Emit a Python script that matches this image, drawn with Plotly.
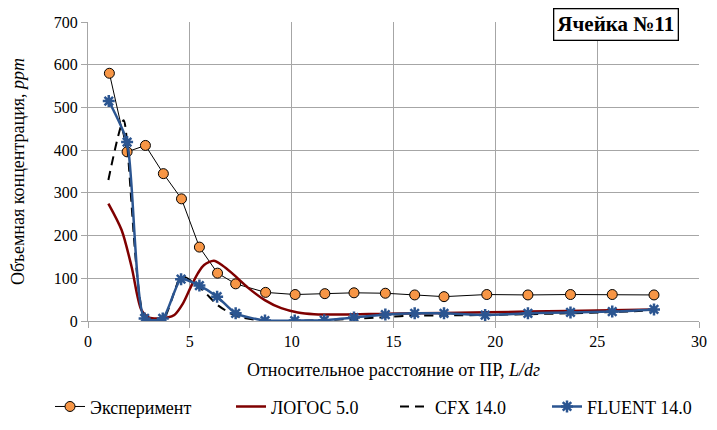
import plotly.graph_objects as go

# Эксперимент (measured points)
exp_x = [1.05, 1.92, 2.82, 3.70, 4.59, 5.47, 6.36, 7.25, 8.72, 10.17, 11.63, 13.06,
         14.6, 16.04, 17.48, 19.58, 21.6, 23.69, 25.74, 27.79]
exp_y = [580, 396, 411, 345, 286, 173, 112, 87, 67, 62, 64, 66,
         65, 61, 57, 62, 61, 62, 62, 61]

# ЛОГОС 5.0
logos_x = [1.0, 1.65, 2.14, 2.62, 3.0, 3.43, 3.9, 4.24, 4.65, 5.05, 5.4, 5.7, 6.18,
           6.6, 7.07, 7.88, 8.68, 9.49, 10.3, 11.1, 12.5, 14.6, 17.5, 21.6, 25.7, 27.8]
logos_y = [275, 213, 127, 26, 8, 6, 8, 14, 40, 80, 112, 131, 141,
           130, 112, 77, 49, 30, 20, 16, 15, 17, 19, 22, 25, 27]

# CFX 14.0
cfx_x = [1.0, 1.75, 2.8, 3.7, 4.6, 5.5, 6.4, 7.25, 8.7, 10.15, 11.6, 13.06,
         14.6, 16.04, 17.48, 19.5, 21.6, 23.69, 25.74, 27.79]
cfx_y = [330, 470, 5, 5, 105, 78, 36, 12, 0, 0, 2, 5,
         9, 13, 13, 14, 16, 18, 21, 25]

# FLUENT 14.0
fl_x = [1.02, 1.92, 2.78, 3.67, 4.57, 5.47, 6.34, 7.25, 8.69, 10.15, 11.6, 13.06,
        14.6, 16.04, 17.48, 19.5, 21.6, 23.69, 25.74, 27.79]
fl_y = [515, 419, 6, 6, 98, 83, 57, 18, 1, 1, 2, 8,
        15, 18, 18, 14, 18, 20, 22, 27]

x_ticks = [0, 5, 10, 15, 20, 25, 30]
y_ticks = [0, 100, 200, 300, 400, 500, 600, 700]

FONT = "Times New Roman, Liberation Serif, DejaVu Serif, serif"
GRID = "#a6a6a6"
FS_TICK = 16
FS_TITLE = 18
FS_LEG = 18

fig = go.Figure()

fig.add_trace(go.Scatter(
    x=exp_x, y=exp_y, name="Эксперимент", mode="lines+markers",
    line=dict(color="black", width=1),
    marker=dict(symbol="circle", size=10, color="#F79646",
                line=dict(color="black", width=1)),
    legend="legend", showlegend=True,
))
fig.add_trace(go.Scatter(
    x=logos_x, y=logos_y, name="ЛОГОС 5.0", mode="lines",
    line=dict(color="#7F0000", width=2.5, shape="spline", smoothing=0.8),
    legend="legend2", showlegend=True,
))
fig.add_trace(go.Scatter(
    x=cfx_x, y=cfx_y, name="CFX 14.0", mode="lines",
    line=dict(color="black", width=2, dash="9px,6px", shape="spline", smoothing=0.6),
    legend="legend3", showlegend=True,
))
fig.add_trace(go.Scatter(
    x=fl_x, y=fl_y, name="FLUENT 14.0", mode="lines+markers",
    line=dict(color="#2B5591", width=2.5, shape="spline", smoothing=0.6),
    marker=dict(symbol="asterisk-open", size=10, color="#2B5591",
                line=dict(color="#2B5591", width=2.5)),
    legend="legend4", showlegend=True,
))

leg_common = dict(orientation="h", xref="container", yref="container",
                  yanchor="middle", y=0.054, xanchor="left",
                  font=dict(family=FONT, size=FS_LEG, color="black"),
                  bgcolor="rgba(0,0,0,0)", borderwidth=0)

fig.update_layout(
    width=717, height=430,
    margin=dict(l=88, r=10, t=22, b=109),
    paper_bgcolor="white", plot_bgcolor="white",
    font=dict(family=FONT, size=FS_TICK, color="black"),
    showlegend=True,
    legend=dict(x=50 / 717, **leg_common),
    legend2=dict(x=231 / 717, **leg_common),
    legend3=dict(x=395 / 717, **leg_common),
    legend4=dict(x=547 / 717, **leg_common),
    xaxis=dict(
        range=[0, 30], tickvals=x_ticks, showgrid=True, gridcolor=GRID, gridwidth=1.3,
        showline=True, linecolor=GRID, linewidth=1.3, zeroline=False,
        ticks="outside", ticklen=6, tickcolor=GRID, tickwidth=1.3,
        tickfont=dict(family=FONT, size=FS_TICK),
        title=dict(text="Относительное расстояние от ПР, <i>L/dг</i>",
                   font=dict(family=FONT, size=FS_TITLE), standoff=14),
    ),
    yaxis=dict(
        range=[0, 700], tickvals=y_ticks, showgrid=True, gridcolor=GRID, gridwidth=1.3,
        showline=True, linecolor=GRID, linewidth=1.3, zeroline=False,
        ticks="outside", ticklen=6, tickcolor=GRID, tickwidth=1.3,
        tickfont=dict(family=FONT, size=FS_TICK),
        title=dict(text="Объемная концентрация, <i>ppm</i>",
                   font=dict(family=FONT, size=FS_TITLE), standoff=24),
    ),
    annotations=[dict(
        text="<b>Ячейка №11</b>", xref="paper", yref="paper", x=0.864, y=0.99,
        xanchor="center", yanchor="middle", showarrow=False,
        font=dict(family=FONT, size=21, color="black"),
        bgcolor="white", bordercolor="black", borderwidth=1.3, borderpad=3,
    )],
)

fig.write_html("out.html")
